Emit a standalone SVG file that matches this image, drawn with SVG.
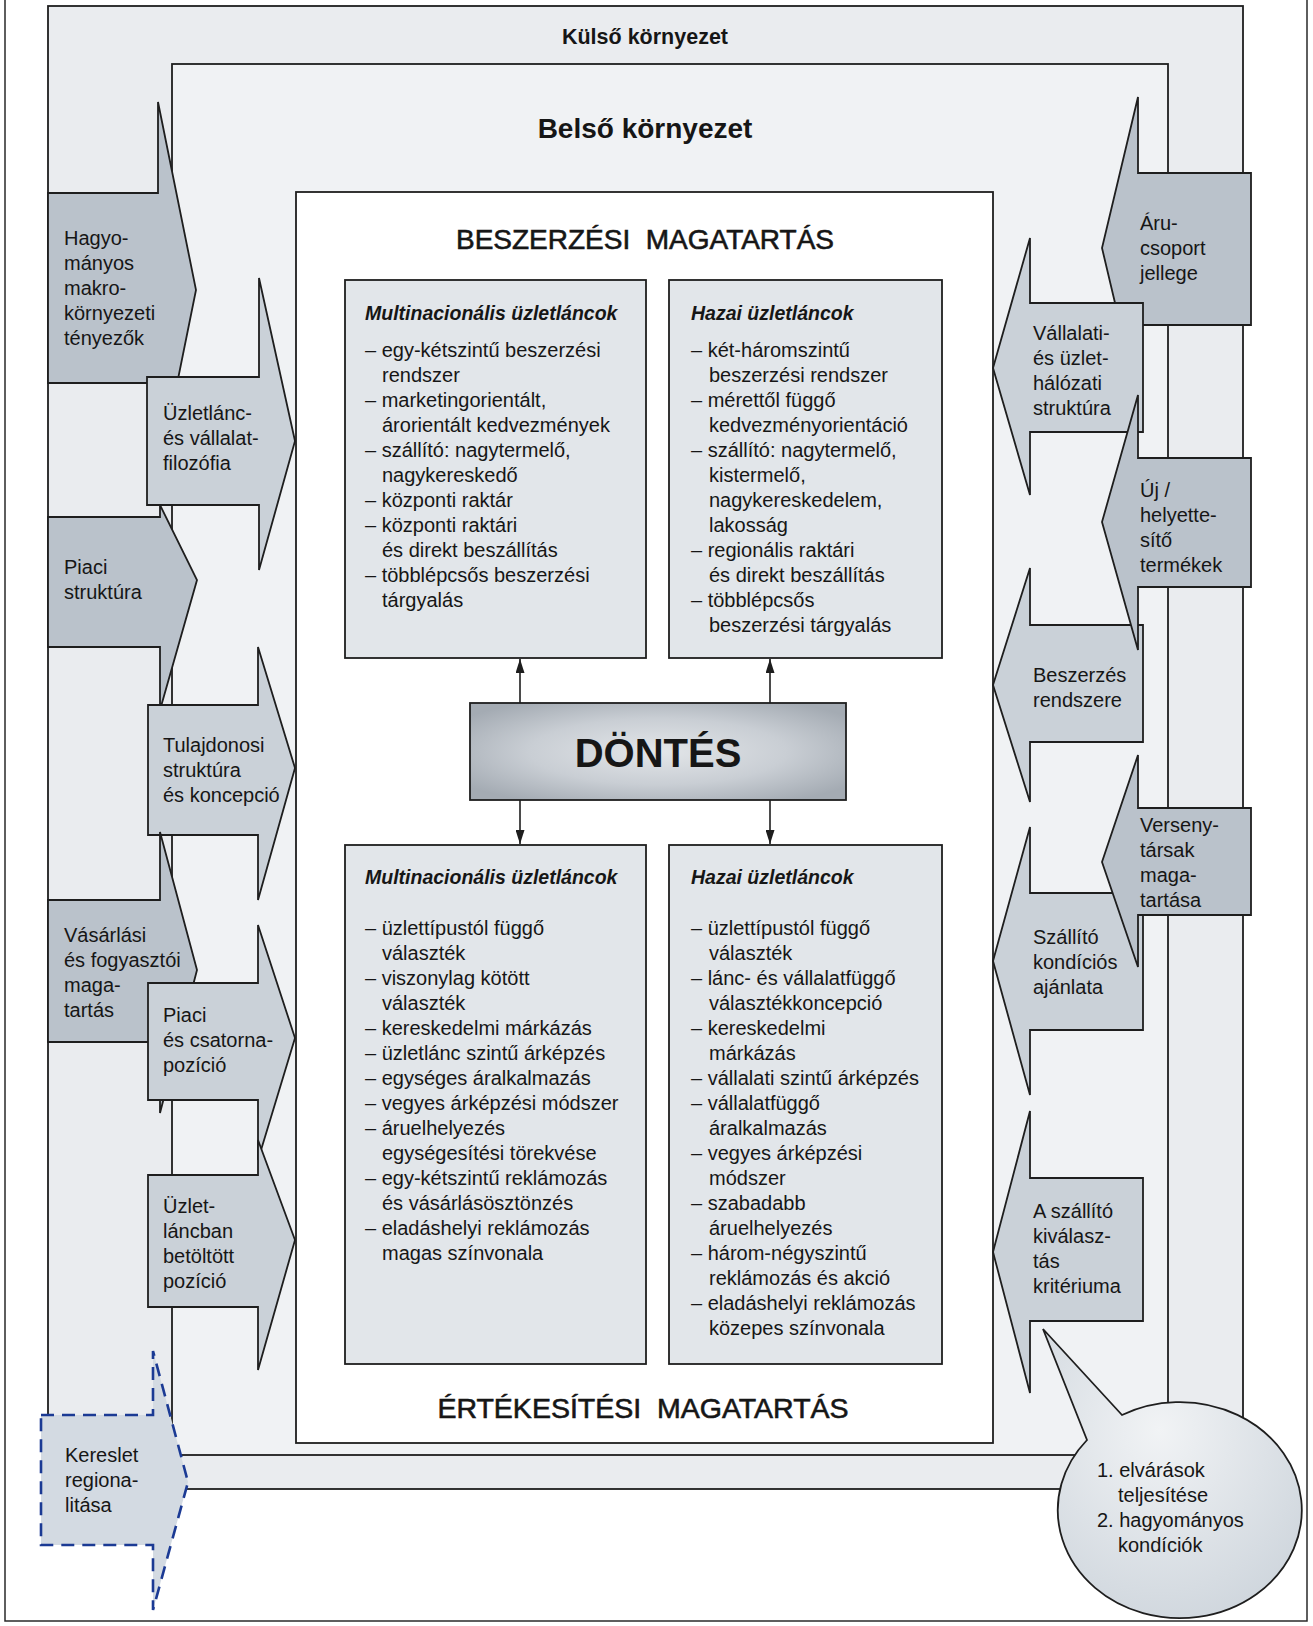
<svg xmlns="http://www.w3.org/2000/svg" width="1313" height="1626" viewBox="0 0 1313 1626">
<defs>
<style>
.ln{stroke:#1e1e1e;stroke-width:1.8;stroke-linejoin:miter}
.ao{fill:#bac2cb}
.ai{fill:#cad1d8}
.bx{fill:#e2e6ea}
.t{font-family:"Liberation Sans",Arial,sans-serif;font-size:20px;fill:#161616}
.bt{font-weight:bold;font-style:italic;font-size:19.5px}
.hd{font-family:"Liberation Sans",Arial,sans-serif;fill:#161616;text-anchor:middle}
.hm{stroke:#161616;stroke-width:0.6}
.con{stroke:#1e1e1e;stroke-width:1.6;fill:none}
.dash{fill:#d3dae2;stroke:#1b3a94;stroke-width:2.6;stroke-dasharray:13 8}
</style>
<marker id="ah" markerUnits="userSpaceOnUse" markerWidth="14" markerHeight="9" refX="14" refY="4.5" orient="auto"><path d="M0,0 L14,4.5 L0,9 z" fill="#1e1e1e"/></marker>
<radialGradient id="dg" cx="0.5" cy="0.5" r="0.62">
<stop offset="0" stop-color="#e3e6e9"/><stop offset="0.55" stop-color="#c9ced4"/><stop offset="1" stop-color="#a4abb3"/>
</radialGradient>
<radialGradient id="bg" cx="0.45" cy="0.35" r="0.7">
<stop offset="0" stop-color="#f1f3f5"/><stop offset="1" stop-color="#cfd6dd"/>
</radialGradient>
</defs>

<rect x="0" y="0" width="1313" height="1626" fill="#ffffff"/>
<path d="M5,0 V1621 H1307 V0" fill="none" stroke="#2a2a2a" stroke-width="1.5"/>

<g id="kulso">
<rect x="48" y="6" width="1195" height="1483" fill="#eaecef" class="ln"/>
<text class="hd" x="645" y="44" font-size="21.5" font-weight="bold">Külső környezet</text>
</g>
<g id="belso">
<rect x="172" y="64" width="996" height="1391" fill="#f0f2f4" class="ln"/>
<text class="hd" x="645" y="138" font-size="28" font-weight="bold">Belső környezet</text>
</g>
<g id="magatartas">
<rect x="296" y="192" width="697" height="1251" fill="#ffffff" class="ln"/>
<text class="hd hm" x="645" y="249" font-size="28" xml:space="preserve">BESZERZÉSI  MAGATARTÁS</text>
<text class="hd hm" x="643" y="1418" font-size="28.5" xml:space="preserve">ÉRTÉKESÍTÉSI  MAGATARTÁS</text>
</g>

<g id="beszerzes-multi">
<rect x="345" y="280" width="301" height="378" class="bx ln"/>
<text class="t bt" x="365" y="320">Multinacionális üzletláncok</text>
<text class="t" x="365" y="357">– egy-kétszintű beszerzési<tspan x="382" dy="25">rendszer</tspan><tspan x="365" dy="25">– marketingorientált,</tspan><tspan x="382" dy="25">árorientált kedvezmények</tspan><tspan x="365" dy="25">– szállító: nagytermelő,</tspan><tspan x="382" dy="25">nagykereskedő</tspan><tspan x="365" dy="25">– központi raktár</tspan><tspan x="365" dy="25">– központi raktári</tspan><tspan x="382" dy="25">és direkt beszállítás</tspan><tspan x="365" dy="25">– többlépcsős beszerzési</tspan><tspan x="382" dy="25">tárgyalás</tspan></text>
</g>
<g id="beszerzes-hazai">
<rect x="669" y="280" width="273" height="378" class="bx ln"/>
<text class="t bt" x="691" y="320">Hazai üzletláncok</text>
<text class="t" x="691" y="357">– két-háromszintű<tspan x="709" dy="25">beszerzési rendszer</tspan><tspan x="691" dy="25">– mérettől függő</tspan><tspan x="709" dy="25">kedvezményorientáció</tspan><tspan x="691" dy="25">– szállító: nagytermelő,</tspan><tspan x="709" dy="25">kistermelő,</tspan><tspan x="709" dy="25">nagykereskedelem,</tspan><tspan x="709" dy="25">lakosság</tspan><tspan x="691" dy="25">– regionális raktári</tspan><tspan x="709" dy="25">és direkt beszállítás</tspan><tspan x="691" dy="25">– többlépcsős</tspan><tspan x="709" dy="25">beszerzési tárgyalás</tspan></text>
</g>
<g id="dontes">
<rect x="470" y="703" width="376" height="97" fill="url(#dg)" class="ln"/>
<text class="hd" x="658" y="767" font-size="40" font-weight="bold">DÖNTÉS</text>
</g>
<g id="ertekesites-multi">
<rect x="345" y="845" width="301" height="519" class="bx ln"/>
<text class="t bt" x="365" y="884">Multinacionális üzletláncok</text>
<text class="t" x="365" y="935">– üzlettípustól függő<tspan x="382" dy="25">választék</tspan><tspan x="365" dy="25">– viszonylag kötött</tspan><tspan x="382" dy="25">választék</tspan><tspan x="365" dy="25">– kereskedelmi márkázás</tspan><tspan x="365" dy="25">– üzletlánc szintű árképzés</tspan><tspan x="365" dy="25">– egységes áralkalmazás</tspan><tspan x="365" dy="25">– vegyes árképzési módszer</tspan><tspan x="365" dy="25">– áruelhelyezés</tspan><tspan x="382" dy="25">egységesítési törekvése</tspan><tspan x="365" dy="25">– egy-kétszintű reklámozás</tspan><tspan x="382" dy="25">és vásárlásösztönzés</tspan><tspan x="365" dy="25">– eladáshelyi reklámozás</tspan><tspan x="382" dy="25">magas színvonala</tspan></text>
</g>
<g id="ertekesites-hazai">
<rect x="669" y="845" width="273" height="519" class="bx ln"/>
<text class="t bt" x="691" y="884">Hazai üzletláncok</text>
<text class="t" x="691" y="935">– üzlettípustól függő<tspan x="709" dy="25">választék</tspan><tspan x="691" dy="25">– lánc- és vállalatfüggő</tspan><tspan x="709" dy="25">választékkoncepció</tspan><tspan x="691" dy="25">– kereskedelmi</tspan><tspan x="709" dy="25">márkázás</tspan><tspan x="691" dy="25">– vállalati szintű árképzés</tspan><tspan x="691" dy="25">– vállalatfüggő</tspan><tspan x="709" dy="25">áralkalmazás</tspan><tspan x="691" dy="25">– vegyes árképzési</tspan><tspan x="709" dy="25">módszer</tspan><tspan x="691" dy="25">– szabadabb</tspan><tspan x="709" dy="25">áruelhelyezés</tspan><tspan x="691" dy="25">– három-négyszintű</tspan><tspan x="709" dy="25">reklámozás és akció</tspan><tspan x="691" dy="25">– eladáshelyi reklámozás</tspan><tspan x="709" dy="25">közepes színvonala</tspan></text>
</g>

<g id="connectors">
<line class="con" x1="520" y1="703" x2="520" y2="659" marker-end="url(#ah)"/>
<line class="con" x1="770" y1="703" x2="770" y2="659" marker-end="url(#ah)"/>
<line class="con" x1="520" y1="800" x2="520" y2="844" marker-end="url(#ah)"/>
<line class="con" x1="770" y1="800" x2="770" y2="844" marker-end="url(#ah)"/>
</g>

<g id="hagyomanyos">
<polygon class="ao ln" points="48,193 158,193 158,102 196,290 158,478 158,383 48,383"/>
<text class="t" x="64" y="245">Hagyo-<tspan x="64" dy="25">mányos</tspan><tspan x="64" dy="25">makro-</tspan><tspan x="64" dy="25">környezeti</tspan><tspan x="64" dy="25">tényezők</tspan></text>
</g>
<g id="piaci-struktura">
<polygon class="ao ln" points="48,517 160,517 160,505 197,580 160,710 160,647 48,647"/>
<text class="t" x="64" y="574">Piaci<tspan x="64" dy="25">struktúra</tspan></text>
</g>
<g id="uzletlanc-filozofia">
<polygon class="ai ln" points="147,377 259,377 259,278 295,441 259,570 259,505 147,505"/>
<text class="t" x="163" y="420">Üzletlánc-<tspan x="163" dy="25">és vállalat-</tspan><tspan x="163" dy="25">filozófia</tspan></text>
</g>
<g id="tulajdonosi">
<polygon class="ai ln" points="148,705 258,705 258,647 295,768 258,900 258,835 148,835"/>
<text class="t" x="163" y="752">Tulajdonosi<tspan x="163" dy="25">struktúra</tspan><tspan x="163" dy="25">és koncepció</tspan></text>
</g>
<g id="vasarlasi">
<polygon class="ao ln" points="48,900 160,900 160,832 197,970 160,1113 160,1042 48,1042"/>
<text class="t" x="64" y="942">Vásárlási<tspan x="64" dy="25">és fogyasztói</tspan><tspan x="64" dy="25">maga-</tspan><tspan x="64" dy="25">tartás</tspan></text>
</g>
<g id="piaci-csatorna">
<polygon class="ai ln" points="148,983 258,983 258,925 295,1038 258,1160 258,1100 148,1100"/>
<text class="t" x="163" y="1022">Piaci<tspan x="163" dy="25">és csatorna-</tspan><tspan x="163" dy="25">pozíció</tspan></text>
</g>
<g id="uzletlancban">
<polygon class="ai ln" points="148,1175 258,1175 258,1140 295,1240 258,1370 258,1307 148,1307"/>
<text class="t" x="163" y="1213">Üzlet-<tspan x="163" dy="25">láncban</tspan><tspan x="163" dy="25">betöltött</tspan><tspan x="163" dy="25">pozíció</tspan></text>
</g>
<g id="kereslet">
<polygon class="dash" points="41,1415 153,1415 153,1351 188,1482 153,1610 153,1545 41,1545"/>
<text class="t" x="65" y="1462">Kereslet<tspan x="65" dy="25">regiona-</tspan><tspan x="65" dy="25">litása</tspan></text>
</g>

<g id="arucsoport">
<polygon class="ao ln" points="1251,173 1138,173 1138,97 1102,248 1138,400 1138,325 1251,325"/>
<text class="t" x="1140" y="230">Áru-<tspan x="1140" dy="25">csoport</tspan><tspan x="1140" dy="25">jellege</tspan></text>
</g>
<g id="vallalati">
<polygon class="ai ln" points="1143,303 1030,303 1030,238 993,368 1030,495 1030,432 1143,432"/>
<text class="t" x="1033" y="340">Vállalati-<tspan x="1033" dy="25">és üzlet-</tspan><tspan x="1033" dy="25">hálózati</tspan><tspan x="1033" dy="25">struktúra</tspan></text>
</g>
<g id="beszerzes-rendszere">
<polygon class="ai ln" points="1143,625 1030,625 1030,568 993,685 1030,802 1030,742 1143,742"/>
<text class="t" x="1033" y="682">Beszerzés<tspan x="1033" dy="25">rendszere</tspan></text>
</g>
<g id="uj-helyettesito">
<polygon class="ao ln" points="1251,458 1138,458 1138,395 1102,522 1138,650 1138,587 1251,587"/>
<text class="t" x="1140" y="497">Új /<tspan x="1140" dy="25">helyette-</tspan><tspan x="1140" dy="25">sítő</tspan><tspan x="1140" dy="25">termékek</tspan></text>
</g>
<g id="szallito-kondicios">
<polygon class="ai ln" points="1143,893 1030,893 1030,827 993,961 1030,1095 1030,1030 1143,1030"/>
<text class="t" x="1033" y="944">Szállító<tspan x="1033" dy="25">kondíciós</tspan><tspan x="1033" dy="25">ajánlata</tspan></text>
</g>
<g id="versenytarsak">
<polygon class="ao ln" points="1251,808 1138,808 1138,755 1102,862 1138,967 1138,915 1251,915"/>
<text class="t" x="1140" y="832">Verseny-<tspan x="1140" dy="25">társak</tspan><tspan x="1140" dy="25">maga-</tspan><tspan x="1140" dy="25">tartása</tspan></text>
</g>
<g id="szallito-kivalasztas">
<polygon class="ai ln" points="1143,1178 1030,1178 1030,1111 993,1252 1030,1393 1030,1321 1143,1321"/>
<text class="t" x="1033" y="1218">A szállító<tspan x="1033" dy="25">kiválasz-</tspan><tspan x="1033" dy="25">tás</tspan><tspan x="1033" dy="25">kritériuma</tspan></text>
</g>

<g id="buborek">
<path d="M1087,1440 L1043,1329 L1122,1415 A122,108 0 1,1 1087,1440 Z" fill="url(#bg)" class="ln"/>
<text class="t" x="1097" y="1477">1. elvárások<tspan x="1118" dy="25">teljesítése</tspan><tspan x="1097" dy="25">2. hagyományos</tspan><tspan x="1118" dy="25">kondíciók</tspan></text>
</g>
</svg>
